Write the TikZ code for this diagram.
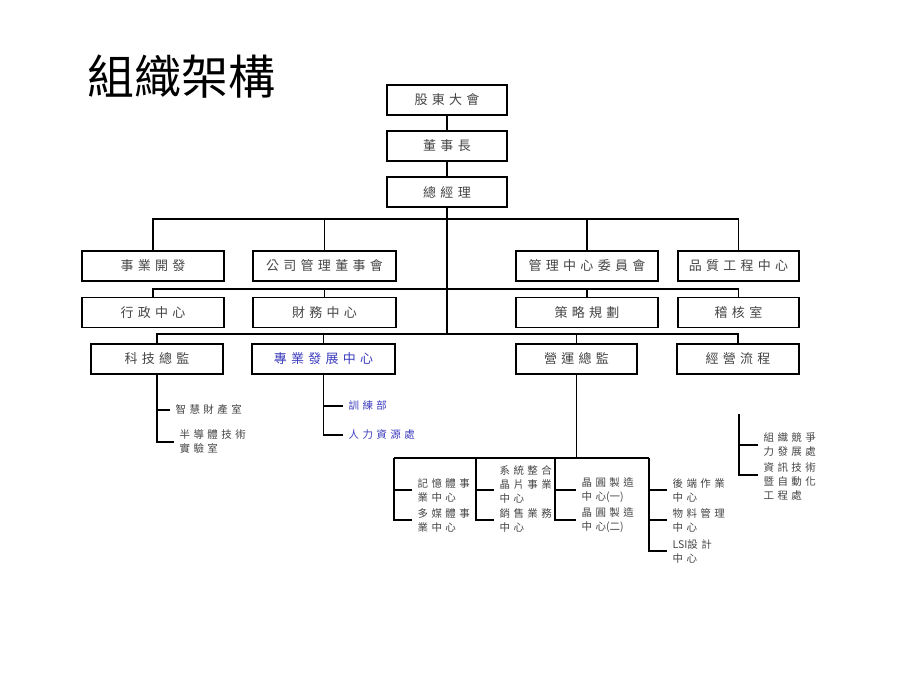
\documentclass[tikz,border=0pt]{standalone}
\usepackage{fontspec}
\newfontfamily\cjk[LetterSpace=33]{Noto Sans CJK TC}
\newfontfamily\cjktight{Noto Sans CJK TC}
\definecolor{txtgray}{RGB}{68,68,68}
\definecolor{hrblue}{RGB}{60,60,190}
\tikzset{
  unit/.style={draw, line width=1.3pt, minimum height=30pt, inner sep=0pt,
    font=\cjk\fontsize{13}{15}\selectfont, text=txtgray},
  dept/.style={anchor=west, inner sep=0pt, align=left,
    font=\cjk\fontsize{10.5}{14}\selectfont, text=txtgray},
  tick/.style={shorten >=5pt},
}
\begin{document}
\begin{tikzpicture}[x=1pt, y=-1pt, line width=1.1pt]
  \useasboundingbox (0,0) rectangle (920,690);
  \node[font=\cjktight\fontsize{47}{50}\selectfont, anchor=west, inner sep=0pt] (title) at (87,77) {組織架構};

  % top of the chart
  \node[unit, minimum width=120pt] (sh) at (447,100) {股東大會};
  \node[unit, minimum width=120pt] (chair) at (447,146) {董事長};
  \node[unit, minimum width=120pt] (gm) at (447,192) {總經理};
  % first row
  \node[unit, minimum width=142pt] (biz) at (153,266) {事業開發};
  \node[unit, minimum width=143pt] (board) at (324.5,266) {公司管理董事會};
  \node[unit, minimum width=142pt] (mcc) at (587,266) {管理中心委員會};
  \node[unit, minimum width=121pt] (qe) at (738.5,266) {品質工程中心};
  % second row
  \node[unit, minimum width=142pt] (admin) at (153,312.5) {行政中心};
  \node[unit, minimum width=143pt] (fin) at (324.5,312.5) {財務中心};
  \node[unit, minimum width=142pt] (strat) at (587,312.5) {策略規劃};
  \node[unit, minimum width=121pt] (audit) at (738.5,312.5) {稽核室};
  % third row
  \node[unit, minimum width=132pt] (tech) at (157,359) {科技總監};
  \node[unit, minimum width=143pt, text=hrblue] (prof) at (323.5,359) {專業發展中心};
  \node[unit, minimum width=121pt] (ops) at (576.5,359) {營運總監};
  \node[unit, minimum width=122pt] (flow) at (738,359) {經營流程};

  \coordinate (bus1) at (447,219);
  \coordinate (bus2) at (447,289);
  \coordinate (bus3) at (447,334);
  \draw (sh) -- (chair) -- (gm);
  \draw (gm) -- (bus3);
  \draw (biz.north) |- (bus1) -| (qe.north);
  \draw (admin.north) |- (bus2) -| (audit.north);
  \draw (tech.north) |- (bus3) -| (flow.north);
  \foreach \n in {board, mcc} {\draw (\n.north) -- (\n.north |- bus1);}
  \foreach \n in {fin, strat} {\draw (\n.north) -- (\n.north |- bus2);}
  \foreach \n in {prof, ops} {\draw (\n.north) -- (\n.north |- bus3);}

  % under the directors
  \node[dept] (ip) at (175,410) {智慧財產室};
  \node[dept] (semi) at (179,442) {半導體技術\\實驗室};
  \node[dept, text=hrblue] (train) at (348,406) {訓練部};
  \node[dept, text=hrblue] (hr) at (348,435) {人力資源處};
  \foreach \n in {ip, semi} {\draw[tick] (tech.south) |- (\n.west);}
  \foreach \n in {train, hr} {\draw[tick] (prof.south) |- (\n.west);}

  % operations
  \foreach \c/\x in {memcol/394, syscol/476, fabcol/555, bkcol/649} {\coordinate (\c) at (\x,458);}
  \draw (ops.south) -- (ops.south |- memcol);
  \draw (memcol) -- (bkcol);
  \node[dept] (mem) at (417,490) {記憶體事\\業中心};
  \node[dept] (media) at (417,520) {多媒體事\\業中心};
  \node[dept] (soc) at (499,484) {系統整合\\晶片事業\\中心};
  \node[dept] (sales) at (499,520) {銷售業務\\中心};
  \node[dept] (fab1) at (581,490) {晶圓製造\\中心{\cjktight(一)}};
  \node[dept] (fab2) at (581,520) {晶圓製造\\中心{\cjktight(二)}};
  \node[dept] (back) at (672,490) {後端作業\\中心};
  \node[dept] (mat) at (672,520) {物料管理\\中心};
  \node[dept] (lsi) at (672,551) {{\cjktight LSI}設計\\中心};
  \foreach \c/\n in {memcol/mem, memcol/media, syscol/sales, fabcol/fab1, fabcol/fab2, bkcol/back, bkcol/mat, bkcol/lsi}
    {\draw[tick] (\c) |- (\n.west);}
  \draw[tick] (syscol) |- (soc.west |- mem.west);

  % right side
  \coordinate (rtop) at (739,414);
  \node[dept] (comp) at (763,445) {組織競爭\\力發展處};
  \node[dept] (itc) at (763,482) {資訊技術\\暨自動化\\工程處};
  \draw[tick] (rtop) |- (comp.west);
  \draw[tick] (rtop) |- ([yshift=7pt]itc.west);
\end{tikzpicture}
\end{document}
